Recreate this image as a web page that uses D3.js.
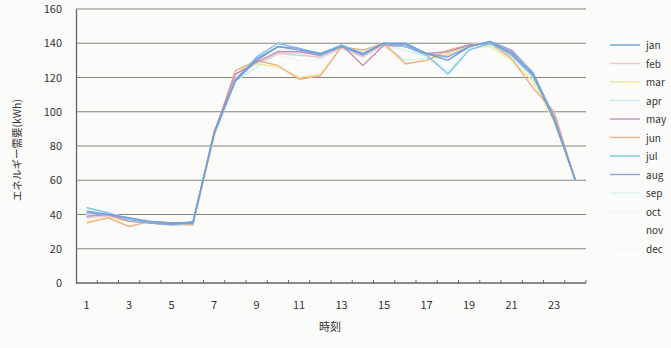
<!DOCTYPE html>
<html>
<head>
<meta charset="utf-8">
<script src="https://cdn.jsdelivr.net/npm/d3@7/dist/d3.min.js"></script>
<style>
  html, body { margin: 0; padding: 0; background: #fbfbfa; }
  svg { display: block; }
  text { font-family: "Noto Sans CJK JP", "Noto Sans", sans-serif; fill: #333; }
</style>
</head>
<body>
<svg id="chart" width="671" height="348"></svg>
<script>
// Hourly energy demand (kWh) for each month
const hours = d3.range(1, 25);
const months = ["jan", "feb", "mar", "apr", "may", "jun", "jul", "aug", "sep", "oct", "nov", "dec"];
const monthColors = ["#6f9fd8", "#f0c6cc", "#ecec98", "#cdeeee", "#c58fb6", "#f0b088",
                     "#78c4ea", "#8ca4dc", "#e0f0f0", "#f4f4f4", "#f6f6f6", "#f6f6f6"];
const yTicks = [0, 20, 40, 60, 80, 100, 120, 140, 160];
const xTickLabels = ["1", "3", "5", "7", "9", "11", "13", "15", "17", "19", "21", "23"];

const jan = [42, 40, 38, 36, 35, 35, 88, 118, 130, 138, 136, 134, 138, 134, 140, 140, 134, 130, 138, 141, 134, 122, 95, 60];
const feb = [38, 39, 37, 35, 34, 34, 86, 122, 128, 134, 133, 132, 137, 132, 139, 138, 133, 133, 139, 140, 133, 121, 96, 60];
const mar = [36, 38, 36, 36, 35, 35, 85, 124, 128, 126, 120, 122, 138, 136, 139, 128, 130, 134, 138, 138, 130, 118, 94, 60];
const apr = [40, 39, 37, 36, 34, 34, 86, 118, 126, 134, 134, 131, 137, 136, 138, 130, 131, 132, 137, 139, 132, 120, 96, 60];
const may = [39, 40, 36, 35, 35, 35, 88, 122, 129, 135, 135, 133, 139, 127, 139, 138, 134, 135, 139, 140, 135, 121, 97, 60];
const jun = [35, 38, 33, 36, 35, 34, 87, 124, 130, 127, 119, 121, 138, 136, 140, 128, 130, 136, 139, 140, 131, 114, 100, 60];
const jul = [44, 41, 37, 35, 34, 35, 87, 118, 132, 140, 137, 134, 139, 134, 140, 138, 133, 122, 136, 140, 133, 121, 96, 60];
const aug = [41, 40, 38, 35, 34, 36, 87, 119, 131, 138, 137, 133, 138, 133, 140, 139, 134, 132, 138, 141, 136, 123, 97, 60];
const sep = [43, 41, 38, 36, 35, 36, 86, 120, 128, 136, 136, 132, 138, 135, 139, 136, 132, 124, 137, 140, 134, 122, 96, 60];
const oct = [40, 39, 37, 36, 35, 35, 87, 121, 129, 133, 130, 130, 138, 133, 139, 135, 133, 134, 138, 140, 133, 121, 96, 60];
const nov = [41, 40, 37, 36, 35, 35, 87, 121, 130, 136, 134, 132, 138, 132, 140, 139, 134, 135, 139, 140, 134, 122, 96, 60];
const dec = [42, 40, 38, 36, 35, 35, 88, 120, 130, 137, 135, 133, 139, 131, 140, 140, 135, 134, 139, 141, 135, 123, 96, 60];
const series = [jan, feb, mar, apr, may, jun, jul, aug, sep, oct, nov, dec];

const svg = d3.select("#chart");
const plot = { left: 76, right: 586, top: 9, bottom: 283 };

const x = d3.scaleBand().domain(hours).range([plot.left, plot.right]);
const y = d3.scaleLinear().domain([0, 160]).range([plot.bottom, plot.top]);

// horizontal grid lines
svg.append("g").selectAll("line").data(yTicks.filter(d => d > 0)).join("line")
  .attr("x1", plot.left).attr("x2", plot.right)
  .attr("y1", d => y(d)).attr("y2", d => y(d))
  .attr("stroke", "#84847f").attr("stroke-width", 1.1);

// y axis
const yAxis = svg.append("g").attr("transform", `translate(${plot.left},0)`)
  .call(d3.axisLeft(y).tickValues(yTicks).tickSize(0).tickPadding(14));
yAxis.select(".domain").attr("stroke", "#666").attr("stroke-width", 1.3);
yAxis.selectAll("text").attr("font-size", 11).attr("fill", "#333");

// x axis: ticks at category boundaries, labels on odd hours
const xAxis = svg.append("g").attr("transform", `translate(0,${plot.bottom})`);
xAxis.append("line").attr("x1", plot.left).attr("x2", plot.right)
  .attr("stroke", "#666").attr("stroke-width", 1.3);
xAxis.selectAll("line.tick").data(hours).join("line").attr("class", "tick")
  .attr("x1", d => x(d) + x.bandwidth()).attr("x2", d => x(d) + x.bandwidth())
  .attr("y1", 0).attr("y2", -3).attr("stroke", "#666");
xAxis.selectAll("text").data(xTickLabels).join("text")
  .attr("x", d => x(+d) + x.bandwidth() / 2).attr("y", 26)
  .attr("text-anchor", "middle").attr("font-size", 11).text(d => d);

// month lines
const line = d3.line().x((d, i) => x(hours[i]) + x.bandwidth() / 2).y(d => y(d));
const drawOrder = [9, 10, 11, 8, 3, 1, 2, 5, 4, 6, 7, 0];
svg.append("g").selectAll("path").data(drawOrder).join("path")
  .attr("d", i => line(series[i]))
  .attr("fill", "none").attr("stroke", i => monthColors[i])
  .attr("stroke-width", 1.4).attr("stroke-linejoin", "round");

// axis titles
svg.append("text").attr("x", 330).attr("y", 331).attr("text-anchor", "middle")
  .attr("font-size", 11).text("時刻");
svg.append("text").attr("transform", "translate(21,150) rotate(-90)")
  .attr("text-anchor", "middle").attr("font-size", 10.5).text("エネルギー需要(kWh)");

// legend
const legend = svg.append("g").selectAll("g").data(months).join("g")
  .attr("transform", (d, i) => `translate(610,${45 + i * 18.5})`);
legend.append("line").attr("x1", 0).attr("x2", 30)
  .attr("stroke", (d, i) => monthColors[i]).attr("stroke-width", 1.4);
legend.append("text").attr("x", 36).attr("y", 4).attr("font-size", 10).text(d => d);
</script>
</body>
</html>
